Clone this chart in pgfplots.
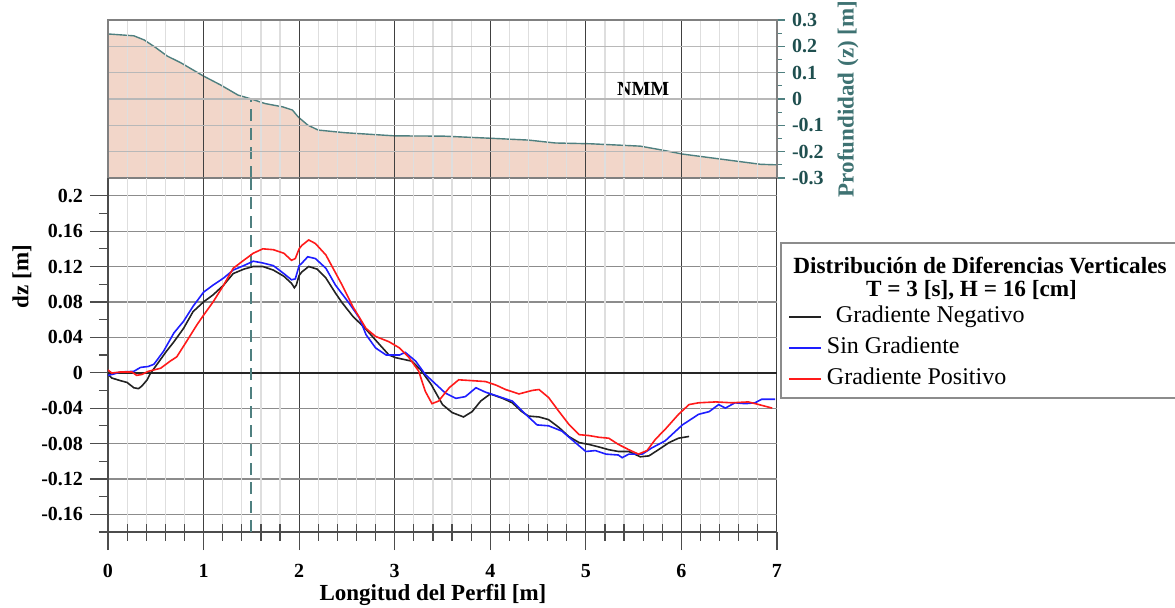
\documentclass[border=0pt]{standalone}
\usepackage{fontspec}
\setmainfont{Liberation Serif}
\usepackage{pgfplots}
\pgfplotsset{compat=1.18}

\definecolor{tealtxt}{HTML}{1F4F4F}
\definecolor{teallab}{HTML}{3E7272}
\definecolor{tealline}{HTML}{4F8080}
\definecolor{peach}{HTML}{F2D6C9}
\definecolor{axgray}{HTML}{808080}
\definecolor{curvblack}{HTML}{222222}
\definecolor{curvblue}{HTML}{1E1EFF}
\definecolor{curvred}{HTML}{FF1A1A}

\begin{document}
\begin{tikzpicture}
\pgfplotsset{
  every axis/.append style={
    width=334.5pt, scale only axis, xmin=0, xmax=7,
    tick label style={font=\fontsize{10}{12}\selectfont\bfseries},
    label style={font=\fontsize{11.5}{13}\selectfont\bfseries},
  },
}
% perfil de fondo (panel superior)
\begin{axis}[
  at={(0pt,177pt)}, anchor=south west, height=79pt,
  ymin=-0.3, ymax=0.3,
  axis on top,
  axis line style={draw=axgray, line width=0.6pt},
  xtick={0,1,2,3,4,5,6,7}, minor x tick num=4, xticklabels={},
  xmajorgrids, xminorgrids, ymajorgrids,
  major x grid style={draw=black!75, line width=0.5pt},
  minor x grid style={draw=black!13, line width=0.6pt},
  major y grid style={draw=black!28, line width=0.6pt},
  x tick style={draw=none},
  ytick={-0.3,-0.2,-0.1,0,0.1,0.2,0.3},
  yticklabels={-0.3,-0.2,-0.1,0,0.1,0.2,0.3},
  minor y tick num=1,
  ytick pos=right, yticklabel pos=right,
  tick align=outside, major tick length=4pt, minor tick length=2.5pt,
  y tick style={draw=tealline, line width=0.6pt},
  yticklabel style={text=tealtxt},
  ylabel={Profundidad (z) [m]},
  ylabel style={at={(axis description cs:1.106,0.5)}, anchor=center, text=teallab},
]
\addplot[fill=peach, draw=none] coordinates {
  (0,-0.3) (0,0.247) (0.27,0.24) (0.38,0.224) (0.5,0.195) (0.62,0.163) (0.76,0.138)
  (1.0,0.087) (1.18,0.053) (1.36,0.015) (1.5,0.0) (1.64,-0.017) (1.83,-0.03)
  (1.93,-0.042) (1.99,-0.068) (2.09,-0.099) (2.2,-0.118) (2.48,-0.128) (3.0,-0.14)
  (3.51,-0.141) (4.0,-0.149) (4.4,-0.156) (4.68,-0.167) (5.05,-0.17) (5.57,-0.179)
  (5.8,-0.194) (6.01,-0.209) (6.45,-0.23) (6.83,-0.248) (7,-0.25) (7,-0.3)
} -- cycle;
\addplot[tealline, line width=0.7pt] coordinates {
  (0,0.247) (0.27,0.24) (0.38,0.224) (0.5,0.195) (0.62,0.163) (0.76,0.138)
  (1.0,0.087) (1.18,0.053) (1.36,0.015) (1.5,0.0) (1.64,-0.017) (1.83,-0.03)
  (1.93,-0.042) (1.99,-0.068) (2.09,-0.099) (2.2,-0.118) (2.48,-0.128) (3.0,-0.14)
  (3.51,-0.141) (4.0,-0.149) (4.4,-0.156) (4.68,-0.167) (5.05,-0.17) (5.57,-0.179)
  (5.8,-0.194) (6.01,-0.209) (6.45,-0.23) (6.83,-0.248) (7,-0.25)
};
\addplot[tealline, line width=0.9pt, dash pattern=on 6pt off 3.5pt] coordinates {(1.5,-0.3) (1.5,0) (7,0)};
\node[font=\fontsize{10}{12}\selectfont\bfseries, anchor=south, inner sep=1.5pt] at (axis cs:5.6,0) {NMM};
\end{axis}

% diferencias verticales (panel inferior)
\begin{axis}[
  at={(0pt,0pt)}, anchor=south west, height=177pt,
  ymin=-0.18, ymax=0.22,
  axis x line*=bottom, axis y line*=left,
  axis line style={draw=black!70, line width=0.6pt},
  xtick={0,1,2,3,4,5,6,7}, xticklabels={0,1,2,3,4,5,6,7},
  xticklabel shift={3.5pt},
  extra x ticks={0.2,0.4,0.6,0.8,1.2,1.4,1.6,1.8,2.2,2.4,2.6,2.8,3.2,3.4,3.6,3.8,4.2,4.4,4.6,4.8,5.2,5.4,5.6,5.8,6.2,6.4,6.6,6.8},
  extra x tick labels={},
  extra x tick style={tick align=center, major tick length=8.5pt,
    major grid style={draw=black!13, line width=0.6pt},
    major x grid style={draw=black!13, line width=0.6pt}},
  xmajorgrids, ymajorgrids,
  major x grid style={draw=black!75, line width=0.5pt},
  major y grid style={draw=black!45, line width=0.6pt},
  ytick={-0.16,-0.12,-0.08,-0.04,0,0.04,0.08,0.12,0.16,0.2},
  yticklabels={-0.16,-0.12,-0.08,-0.04,0,0.04,0.08,0.12,0.16,0.2},
  minor ytick={-0.18,-0.14,-0.1,-0.06,-0.02,0.02,0.06,0.1,0.14,0.18},
  tick align=outside, major tick length=9pt, minor tick length=4.5pt,
  tick style={draw=black!70, line width=0.6pt},
  xlabel={Longitud del Perfil [m]},
  xlabel style={at={(axis description cs:0.4858,-0.1780)}, anchor=center},
  ylabel={dz [m]},
  ylabel style={at={(axis description cs:-0.1286,0.7218)}, anchor=center},
  legend style={at={(1.0164,0.6483)}, anchor=north west, draw=none, fill=none,
    inner sep=0pt, row sep=1.5pt, column sep=1.5pt,
    nodes={inner sep=1pt, text height=9pt, text depth=3pt},
    font=\fontsize{12}{14}\selectfont},
  legend cell align=left,
  legend image code/.code={\draw[#1] (0pt,0pt) -- (16pt,0pt);},
]
\addplot[forget plot, black!85, line width=1.1pt] coordinates {(0,0) (7,0)};
\addplot[forget plot, tealline, line width=0.9pt, dash pattern=on 6pt off 3.5pt] coordinates {(1.5,-0.18) (1.5,0.22)};

\addplot[curvblack, line width=0.8pt] coordinates {
  (0,-0.002) (0.04,-0.006) (0.13,-0.009) (0.2,-0.011) (0.27,-0.017) (0.32,-0.018)
  (0.355,-0.015) (0.41,-0.008) (0.44,-0.0015) (0.51,0.009) (0.61,0.024) (0.69,0.035)
  (0.79,0.05) (0.89,0.069) (1.0,0.08) (1.1,0.088) (1.21,0.099) (1.31,0.112)
  (1.42,0.117) (1.52,0.12) (1.62,0.12) (1.73,0.116) (1.84,0.109) (1.92,0.101)
  (1.95,0.096) (1.97,0.099) (2.0,0.110) (2.03,0.114) (2.10,0.12) (2.19,0.117)
  (2.28,0.107) (2.38,0.09) (2.45,0.079) (2.56,0.064) (2.70,0.049) (2.84,0.032)
  (2.94,0.020) (3.01,0.017) (3.18,0.013) (3.27,0.0035) (3.38,-0.013) (3.50,-0.036)
  (3.60,-0.045) (3.72,-0.05) (3.81,-0.044) (3.90,-0.032) (4.0,-0.024) (4.13,-0.029)
  (4.23,-0.034) (4.33,-0.044) (4.40,-0.049) (4.51,-0.05) (4.61,-0.053) (4.72,-0.062)
  (4.82,-0.072) (4.93,-0.079) (5.03,-0.081) (5.14,-0.084) (5.24,-0.087) (5.34,-0.089)
  (5.45,-0.089) (5.57,-0.095) (5.66,-0.094) (5.76,-0.087) (5.87,-0.079) (5.97,-0.074)
  (6.08,-0.072)
};
\addlegendentry{\hspace{4.5pt}Gradiente Negativo}

\addplot[curvblue, line width=0.8pt] coordinates {
  (0,-0.003) (0.06,-0.0015) (0.13,0.0008) (0.27,0.0015) (0.34,0.006) (0.42,0.007)
  (0.48,0.0095) (0.58,0.024) (0.69,0.045) (0.79,0.058) (0.89,0.075) (1.0,0.091)
  (1.10,0.099) (1.21,0.107) (1.31,0.116) (1.42,0.121) (1.52,0.126) (1.62,0.124)
  (1.73,0.121) (1.84,0.112) (1.92,0.105) (1.96,0.106) (2.0,0.121) (2.03,0.124)
  (2.09,0.131) (2.17,0.129) (2.28,0.118) (2.38,0.099) (2.52,0.079) (2.63,0.062)
  (2.70,0.043) (2.80,0.028) (2.91,0.02) (3.05,0.02) (3.11,0.023) (3.22,0.013)
  (3.32,-0.002) (3.43,-0.013) (3.53,-0.023) (3.64,-0.029) (3.74,-0.027) (3.85,-0.017)
  (3.95,-0.022) (4.09,-0.027) (4.23,-0.032) (4.37,-0.047) (4.49,-0.059) (4.61,-0.06)
  (4.75,-0.066) (4.89,-0.079) (5.0,-0.089) (5.10,-0.088) (5.21,-0.092) (5.34,-0.093)
  (5.38,-0.096) (5.45,-0.092) (5.59,-0.092) (5.69,-0.085) (5.83,-0.077) (6.01,-0.059)
  (6.18,-0.047) (6.29,-0.044) (6.39,-0.036) (6.46,-0.04) (6.56,-0.034) (6.67,-0.035)
  (6.77,-0.034) (6.84,-0.03) (6.98,-0.03)
};
\addlegendentry{Sin Gradiente}

\addplot[curvred, line width=0.8pt] coordinates {
  (0,0.003) (0.04,-0.0004) (0.13,0.0008) (0.25,0.0008) (0.30,-0.003) (0.355,-0.002)
  (0.42,0.0015) (0.55,0.005) (0.65,0.013) (0.72,0.018) (0.82,0.035) (0.93,0.054)
  (1.0,0.065) (1.10,0.08) (1.21,0.099) (1.31,0.118) (1.42,0.127) (1.52,0.135)
  (1.62,0.14) (1.73,0.139) (1.84,0.135) (1.92,0.127) (1.96,0.129) (2.0,0.14)
  (2.03,0.144) (2.10,0.15) (2.17,0.146) (2.28,0.133) (2.45,0.099) (2.56,0.075)
  (2.70,0.05) (2.80,0.041) (2.94,0.035) (3.05,0.028) (3.15,0.017) (3.25,0.002)
  (3.32,-0.021) (3.39,-0.035) (3.46,-0.032) (3.57,-0.017) (3.67,-0.008) (3.81,-0.009)
  (3.95,-0.01) (4.06,-0.014) (4.16,-0.019) (4.30,-0.024) (4.44,-0.02) (4.51,-0.019)
  (4.61,-0.028) (4.72,-0.044) (4.82,-0.058) (4.93,-0.07) (5.03,-0.071) (5.14,-0.073)
  (5.24,-0.074) (5.34,-0.081) (5.45,-0.087) (5.55,-0.092) (5.64,-0.088) (5.73,-0.075)
  (5.83,-0.064) (5.97,-0.047) (6.08,-0.036) (6.18,-0.034) (6.36,-0.033) (6.53,-0.034)
  (6.70,-0.033) (6.81,-0.036) (6.95,-0.04)
};
\addlegendentry{Gradiente Positivo}
\end{axis}

% recuadro y titulo de la leyenda
\draw[black!45, line width=0.8pt] (336.5pt,67pt) rectangle (545pt,144.5pt);
\node[font=\fontsize{11.6}{14}\selectfont\bfseries] at (436pt,133pt) {Distribución de Diferencias Verticales};
\node[font=\fontsize{11.6}{14}\selectfont\bfseries] at (431.75pt,121pt) {T = 3 [s], H = 16 [cm]};

\pgfresetboundingbox
\path[use as bounding box] (-54pt,-37.5pt) rectangle (533.5pt,266pt);
\end{tikzpicture}
\end{document}
